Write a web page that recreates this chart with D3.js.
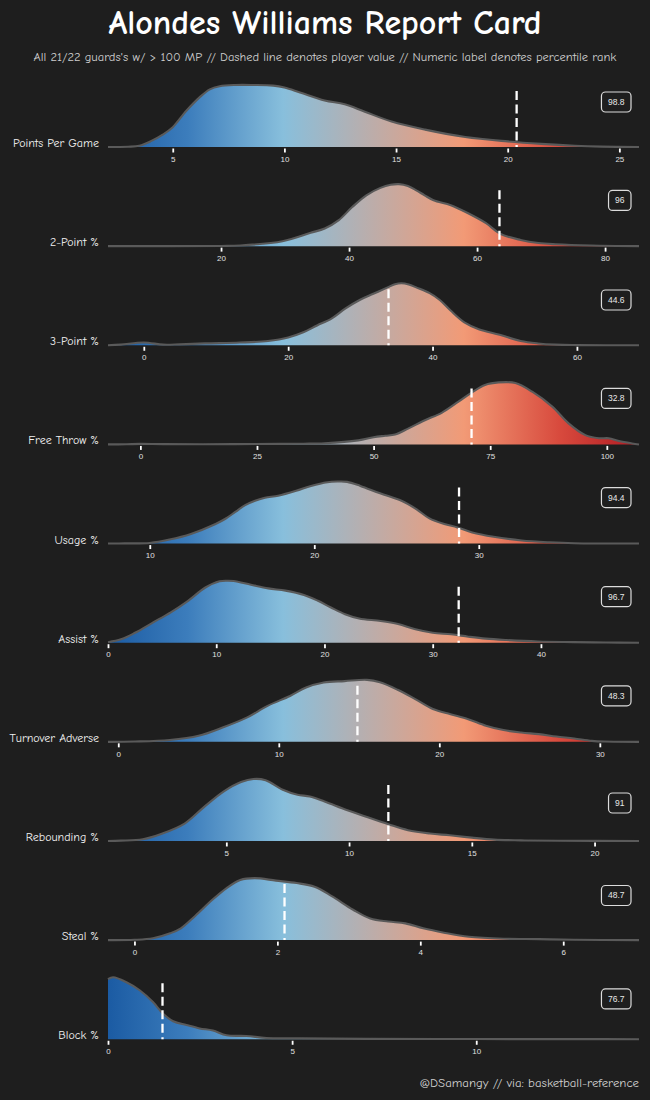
<!DOCTYPE html>
<html><head><meta charset="utf-8">
<script src="https://cdn.jsdelivr.net/npm/d3@7"></script>
<style>
html,body{margin:0;padding:0;background:#1e1e1e;}
svg{display:block;}
</style>
</head><body>
<svg id="chart" width="650" height="1100"></svg>
<script>
// ---------------- DATA ----------------
const metrics = ["Points Per Game","2-Point %","3-Point %","Free Throw %","Usage %",
                 "Assist %","Turnover Adverse","Rebounding %","Steal %","Block %"];
const playerValues = [20.4, 63.5, 33.9, 71.0, 28.8, 32.4, 14.9, 11.6, 2.1, 1.48];
const percentileLabels = ["98.8","96","44.6","32.8","94.4","96.7","48.3","91","48.7","76.7"];
const xDomains = [[2.1,25.88],[2.34,85.3],[-4.96,68.6],[-6.94,106.9],[7.46,39.74],
                  [0,49.06],[-0.64,32.44],[0.18,21.81],[-0.37,7.06],[0,14.42]];
const tickValues = [[5,10,15,20,25],[20,40,60,80],[0,20,40,60],[0,25,50,75,100],[10,20,30],
                    [0,10,20,30,40],[0,10,20,30],[5,10,15,20],[0,2,4,6],[0,5,10]];
// density curves: [value, density as % of the panel's peak]
const ppgDensity = [[3.0,0.5],[3.5,2],[4.0,9],[4.55,20],[5.0,32],[5.6,58],[6.2,80],[6.66,93],[7.1,98],
  [7.8,100],[8.6,100],[9.5,99],[10.0,96],[10.7,88],[11.8,75],[12.7,69],[13.6,57],[14.8,41],[16.3,28],
  [18.1,16],[20.0,9],[21.5,5],[23.0,2],[24.2,0.6]];
const twoPtDensity = [[20,0.3],[23,1],[29.6,8],[34.0,21.5],[36.2,28.5],[38.4,42],[40.5,63],[42.7,82],
  [44.9,94],[46.5,99],[47.8,100],[49.2,97],[50.5,90],[51.8,82],[53.2,74],[55.9,66],[58.6,53],[61.4,37],[63.6,20],
  [66.8,10],[69.6,5],[72.3,3],[77.8,1]];
const threePtDensity = [[-3.2,1],[0,4.4],[2.7,1],[5,1.5],[8.5,3],[13.3,4.4],[17.2,7],[20,12.6],[22.1,21],
  [24,32],[26,43],[27.9,59],[29.9,73],[31.8,83],[33.7,93],[34.8,98.5],[35.7,100],[36.7,98],[37.8,93],[39.6,84],
  [41.0,73],[42.5,56],[44.4,37],[46.4,26],[49.3,17],[52.2,7],[54.6,3],[57.0,1],[60,0.3]];
const freeThrowDensity = [[-3,0.3],[0,0.8],[5,0.4],[20,0.4],[30,0.8],[35,1.2],[39.5,2],[46.7,6.5],[50,11.5],
  [52.5,14],[54.6,16],[57.4,25.5],[61,39],[64.6,51],[68.2,69],[71.1,84],[73.9,96],[76.8,100],[80.4,99],
  [84,85],[88.3,61],[91.8,34],[95.4,15],[98.3,10],[100.4,10],[102.6,5.4],[105.4,1.6]];
const usageDensity = [[8.5,0.3],[10,1],[11.2,6.4],[12.5,15.5],[14.0,31.6],[14.6,40],[15.2,51],[15.8,62],
  [16.4,69],[17.0,74],[17.8,77],[18.9,85],[19.8,93],[20.8,99],[21.4,100],[22.0,99.5],[22.8,93],[24.0,81],
  [25.3,69],[26.2,55.6],[27.0,40.6],[27.9,31.6],[28.7,26],[29.6,18],[30.9,11],[32.6,5],[34.3,2],[35.8,0.5]];
const assistDensity = [[0,0.8],[1.2,5.4],[2.5,16],[4.1,32],[5.8,49],[7.4,67.6],[9.0,89],[10.3,99],[11.0,100],[11.6,99.5],
  [13.2,93.5],[14.8,87.6],[16.4,84],[18.1,77],[19.4,67.6],[20.6,56.8],[21.9,46],[23.2,39],[25.2,35],[26.8,30],
  [28.4,21.6],[30.0,16],[31.7,13.5],[33.3,9.7],[34.9,6.5],[36.8,4.3],[39.7,2],[43.0,1],[46,0.3]];
const turnoverDensity = [[1.05,0.5],[3.2,3],[5.0,9.7],[6.5,23],[8.0,39],[9.3,58],[10.7,74],[11.7,87.6],
  [12.8,95.7],[14.1,98],[15.5,100],[16.3,96],[17.4,84],[18.5,69],[19.6,53],[20.7,44.6],[21.8,36.6],[22.9,26],
  [24.0,19],[25.1,15],[26.2,12.4],[27.3,8.6],[28.4,5.4],[29.5,1.6],[30.3,0.5]];
const reboundDensity = [[0.7,0.5],[1.6,2.7],[2.4,12],[3.3,28],[4.1,55],[4.9,80],[5.6,95],[6.1,100],[6.6,98],
  [7.3,82.6],[7.9,74.5],[8.4,71.7],[9.0,63.6],[9.9,50],[10.7,39],[11.6,27],[12.4,17.4],[13.3,12],[14.1,9.2],
  [15.0,5.4],[15.9,2.2],[17.0,1],[18.5,0.3]];
const stealDensity = [[0,0.5],[0.26,3],[0.5,11],[0.65,19],[0.85,39],[1.09,65],[1.29,84],[1.48,97],[1.68,100],
  [1.98,96],[2.27,92],[2.52,86],[2.76,71],[3.06,49],[3.30,35],[3.55,30],[3.79,27],[4.04,19],[4.33,12],
  [4.68,5.4],[5.17,2.2],[5.66,1.6],[6.15,0.5]];
const blockDensity = [[0,97],[0.14,100],[0.5,92],[0.86,79],[1.22,60],[1.49,41.5],[1.77,29],[2.13,23],
  [2.49,17.5],[2.85,14],[3.22,6.4],[3.76,5.3],[4.3,2],[5.2,1.6],[7,0.6],[10,0.3],[13,0.2]];
const densities = [ppgDensity, twoPtDensity, threePtDensity, freeThrowDensity, usageDensity,
                   assistDensity, turnoverDensity, reboundDensity, stealDensity, blockDensity];

const titleText = "Alondes Williams Report Card";
const subtitleText = "All 21/22 guards's w/ > 100 MP // Dashed line denotes player value // Numeric label denotes percentile rank";
const captionText = "@DSamangy // via: basketball-reference";

// ---------------- LAYOUT / STYLE ----------------
const W = 650, H = 1100;
const bg = "#1e1e1e";
const plotLeft = 108, plotRight = 639;
const firstBaseline = 147, rowStep = 99.14, peakHeight = 62;
const labelLift = [45, 45.7, 45.3, 46, 46, 46, 46, 38, 44.6, 40.3];
const comic = "'Comic Sans MS','Comic Neue',Lato,sans-serif";
const plain = "'Liberation Sans',Arial,sans-serif";

const svg = d3.select("#chart");
svg.append("rect").attr("width", W).attr("height", H).attr("fill", bg);

const defs = svg.append("defs");
const grad = defs.append("linearGradient").attr("id", "fillGrad")
  .attr("gradientUnits", "userSpaceOnUse")
  .attr("x1", plotLeft).attr("x2", plotRight).attr("y1", 0).attr("y2", 0);
[[0, "#1b5ba3"], [0.15, "#3c7dbc"], [0.33, "#88bfdc"], [0.67, "#f29a76"], [0.85, "#d84a3d"], [1, "#b01a22"]]
  .forEach(([o, c]) => grad.append("stop").attr("offset", o).attr("stop-color", c));

// Title etc.
svg.append("text").attr("x", W / 2).attr("y", 34).attr("text-anchor", "middle")
  .attr("font-family", comic).attr("font-weight", "bold").attr("font-size", 34)
  .attr("fill", "#ffffff").text(titleText);
svg.append("text").attr("x", W / 2).attr("y", 61).attr("text-anchor", "middle")
  .attr("font-family", comic).attr("font-size", 12.5)
  .attr("fill", "#cfcfcf").text(subtitleText);
svg.append("text").attr("x", 639).attr("y", 1087).attr("text-anchor", "end")
  .attr("font-family", comic).attr("font-size", 12.8)
  .attr("fill", "#d0d0d0").text(captionText);

const curve = d3.curveCatmullRom.alpha(0.5);

metrics.forEach((name, i) => {
  const base = firstBaseline + rowStep * i;
  const x = d3.scaleLinear().domain(xDomains[i]).range([plotLeft, plotRight]);
  const y = d3.scaleLinear().domain([0, 100]).range([base, base - peakHeight]).clamp(true);
  const g = svg.append("g");

  let pts = densities[i].slice();
  if (pts[0][0] > xDomains[i][0]) pts.unshift([xDomains[i][0], 0]);
  if (pts[pts.length - 1][0] < xDomains[i][1]) pts.push([xDomains[i][1], 0]);

  const area = d3.area().x(d => x(d[0])).y0(base).y1(d => y(d[1])).curve(curve);
  const line = d3.line().x(d => x(d[0])).y(d => y(d[1])).curve(curve);

  g.append("path").attr("d", area(pts)).attr("fill", "url(#fillGrad)");
  g.append("path").attr("d", line(pts)).attr("fill", "none")
    .attr("stroke", "#5a5a5a").attr("stroke-width", 2.1).attr("stroke-linejoin", "round");

  // axis
  const axis = d3.axisBottom(x).tickValues(tickValues[i]).tickSize(5).tickPadding(5)
    .tickFormat(d3.format("d"));
  const ax = g.append("g").attr("transform", `translate(0,${base + 0.5})`).call(axis);
  ax.select(".domain").remove();
  ax.selectAll(".tick line").attr("stroke", "#ffffff").attr("stroke-width", 1.8)
    .attr("y1", 1).attr("y2", 5);
  ax.selectAll(".tick text").attr("fill", "#e0e0e0").attr("font-size", 8)
    .attr("font-family", plain).attr("dy", "0.71em").attr("y", 8.5);

  // player value dashed line
  g.append("line").attr("x1", x(playerValues[i])).attr("x2", x(playerValues[i]))
    .attr("y1", base - 56).attr("y2", base)
    .attr("stroke", "#ffffff").attr("stroke-width", 2.3).attr("stroke-dasharray", "9,4.5");

  // metric label
  g.append("text").attr("x", 99).attr("y", base).attr("text-anchor", "end")
    .attr("font-family", comic).attr("font-size", 12).attr("fill", "#f2f2f2").text(name);

  // percentile label
  const ly = base - labelLift[i];
  const box = g.append("rect");
  const t = g.append("text").attr("y", ly).attr("dy", "0.35em").attr("text-anchor", "middle")
    .attr("font-family", plain).attr("font-size", 8.5).attr("fill", "#e8e8e8")
    .text(percentileLabels[i]);
  const tw = t.node().getComputedTextLength();
  const bw = tw + 13, bh = 20;
  const cx = 631 - bw / 2;
  t.attr("x", cx);
  box.attr("x", cx - bw / 2).attr("y", ly - bh / 2).attr("width", bw).attr("height", bh)
    .attr("rx", 4).attr("fill", bg).attr("stroke", "#dcdcdc").attr("stroke-width", 1.2);
});
</script>
</body></html>
